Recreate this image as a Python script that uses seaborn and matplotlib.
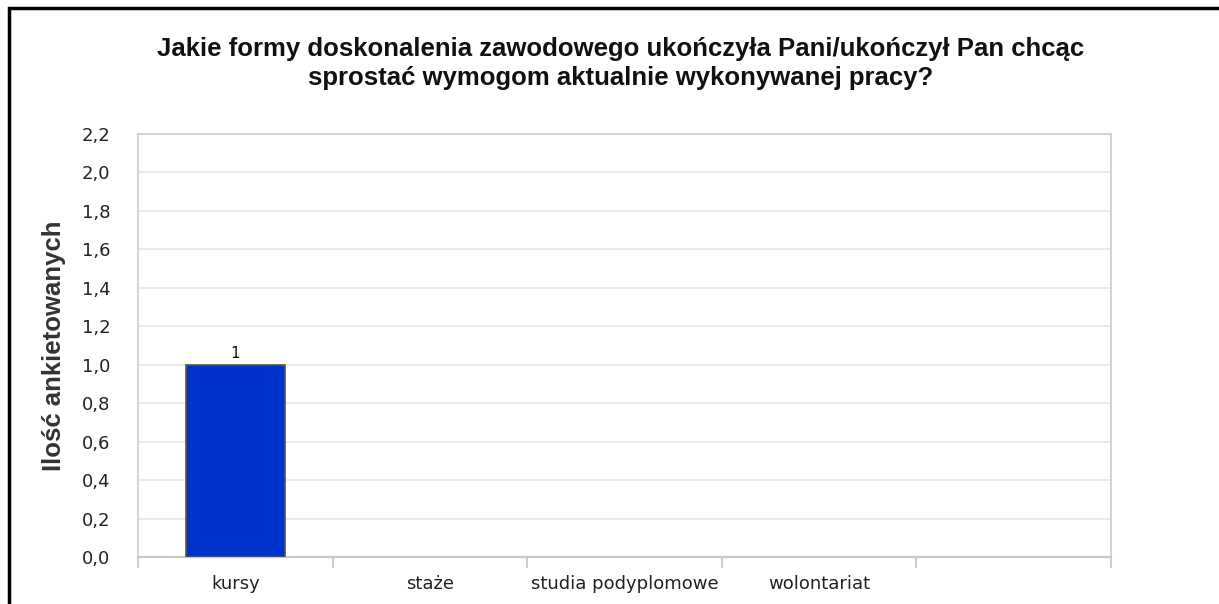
import matplotlib
matplotlib.use("Agg")
import matplotlib.pyplot as plt
import seaborn as sns
import pandas as pd
from matplotlib.patches import Rectangle
from matplotlib.ticker import FixedLocator, FuncFormatter

categories = ["kursy", "staże", "studia podyplomowe", "wolontariat", ""]
values = [1, 0, 0, 0, 0]
title = "Jakie formy doskonalenia zawodowego ukończyła Pani/ukończył Pan chcąc\nsprostać wymogom aktualnie wykonywanej pracy?"
ylabel = "Ilość ankietowanych"

sns.set_theme(style="white")
plt.rcParams["font.family"] = ["DejaVu Sans"]

df = pd.DataFrame({"cat": categories, "val": values})

fig = plt.figure(figsize=(12.19, 6.04), dpi=100)
ax = fig.add_axes([0.1132, 0.0778, 0.7982, 0.7003])

sns.barplot(data=df, x="cat", y="val", ax=ax, color="#0033cc", saturation=1,
            width=0.51, edgecolor="#555555", linewidth=1.2, zorder=3)
for p in ax.patches:
    if p.get_height() == 0:
        p.set_linewidth(0)

ax.set_xlim(-0.5, len(categories) - 0.5)
ax.set_ylim(0, 2.2)
yt = [i * 0.2 for i in range(12)]
ax.set_yticks(yt)
ax.yaxis.set_major_formatter(FuncFormatter(lambda v, p: f"{v:.1f}".replace(".", ",")))
ax.tick_params(axis="y", length=0, labelsize=13, labelcolor="#222222", pad=20)
ax.grid(axis="y", color="#e8e8e8", linewidth=1.3, zorder=0)
ax.set_axisbelow(True)

ax.set_xticks(range(len(categories)))
ax.set_xticklabels(categories)
ax.tick_params(axis="x", which="major", length=0, labelsize=13, labelcolor="#222222", pad=13)
ax.xaxis.set_minor_locator(FixedLocator([i - 0.5 for i in range(len(categories) + 1)]))
ax.tick_params(axis="x", which="minor", bottom=True, length=8, width=1.3,
               color="#c8c8c8", direction="out")
ax.set_xlabel("")

for s in ["top", "right", "left"]:
    ax.spines[s].set_color("#d0d0d0")
    ax.spines[s].set_linewidth(1.3)
ax.spines["bottom"].set_color("#c8c8c8")
ax.spines["bottom"].set_linewidth(1.6)

ax.set_ylabel(ylabel, fontsize=18.5, fontweight="bold", color="#333333",
              family="Liberation Sans", labelpad=11)

for i, v in enumerate(values):
    if v > 0:
        ax.text(i, v + 0.02, f"{v}", ha="center", va="bottom", fontsize=11, color="#111111")

fig.text(0.509, 0.895, title, ha="center", va="center", fontsize=18.5,
         fontweight="bold", family="Liberation Sans", color="#111111", linespacing=1.3)

fig.patches.append(Rectangle((9 / 1219, -0.05), 1.1, 1 - 8 / 604 + 0.05,
                             transform=fig.transFigure, fill=False,
                             edgecolor="black", linewidth=2.5))

fig.savefig("out.png", dpi=100)
